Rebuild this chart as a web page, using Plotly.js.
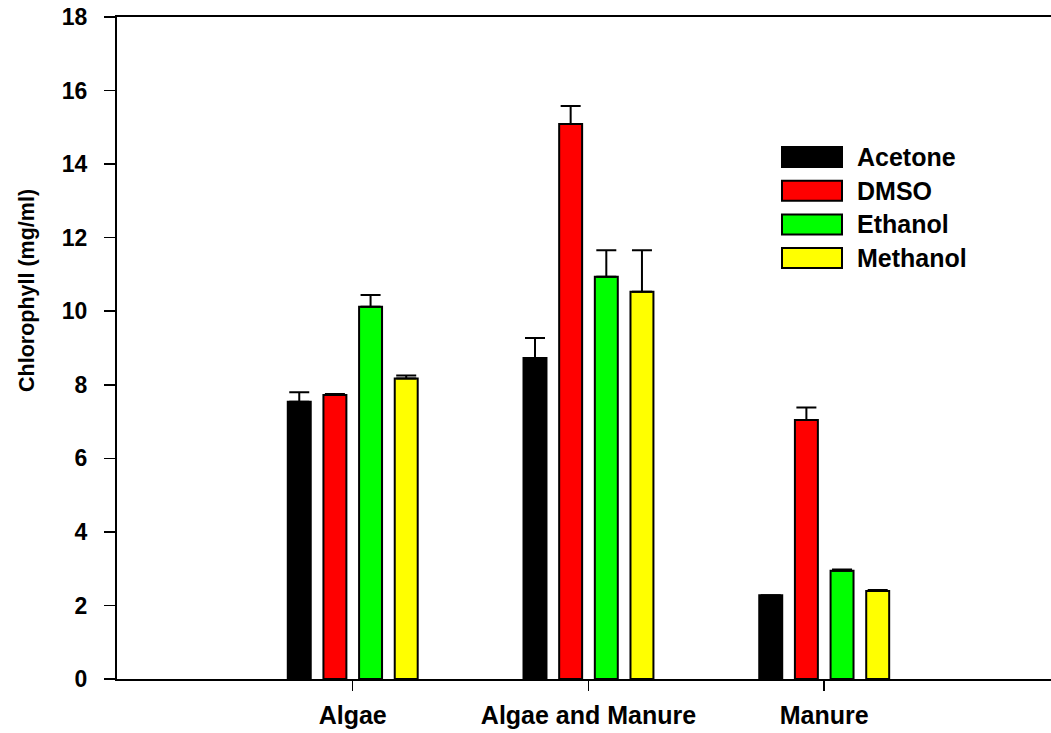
<!DOCTYPE html>
<html>
<head>
<meta charset="utf-8">
<script src="https://cdn.plot.ly/plotly-3.0.1.min.js"></script>
<style>html,body{margin:0;padding:0;overflow:hidden;background:#fff;}</style>
</head>
<body>
<div id="chart" style="width:1051px;height:733px;"></div>
<script>
const categories = ["Algae", "Algae and Manure", "Manure"];
const seriesNames = ["Acetone", "DMSO", "Ethanol", "Methanol"];
const seriesColors = ["#000000", "#ff0000", "#00ff00", "#ffff00"];
const acetone = [7.54, 8.73, 2.28];
const acetoneErr = [0.26, 0.54, 0.0];
const dmso = [7.72, 15.09, 7.04];
const dmsoErr = [0.03, 0.49, 0.34];
const ethanol = [10.12, 10.94, 2.94];
const ethanolErr = [0.32, 0.72, 0.04];
const methanol = [8.17, 10.53, 2.39];
const methanolErr = [0.08, 1.13, 0.03];
const yTicks = [0, 2, 4, 6, 8, 10, 12, 14, 16, 18];

const values = [acetone, dmso, ethanol, methanol];
const errs = [acetoneErr, dmsoErr, ethanolErr, methanolErr];
const FONT = "Arial, 'Liberation Sans', sans-serif";

const traces = seriesNames.map((name, i) => ({
  type: "bar",
  name: name,
  x: [0, 1, 2],
  y: values[i],
  marker: {color: seriesColors[i], line: {color: "#000", width: 2}},
  error_y: {type: "data", symmetric: false, array: errs[i], arrayminus: errs[i].map(() => 0),
            color: "#000", thickness: 2, width: 10, visible: true},
  showlegend: false
}));

// plot area pixel geometry (for custom legend placement)
const L = 117, T = 17, W = 934, H = 662;
const px2x = p => (p - L) / W;
const px2y = p => (T + H - p) / H;

const shapes = [];
const annotations = [];
seriesNames.forEach((name, i) => {
  const cy = 157 + i * 33.7;
  shapes.push({type: "rect", xref: "paper", yref: "paper",
    x0: px2x(782), x1: px2x(842), y0: px2y(cy + 10), y1: px2y(cy - 10),
    fillcolor: seriesColors[i], line: {color: "#000", width: 2}});
  annotations.push({xref: "paper", yref: "paper", x: px2x(855), y: px2y(cy),
    xanchor: "left", yanchor: "middle", showarrow: false, text: "<b>" + name + "</b>",
    font: {family: FONT, size: 25, color: "#000"}});
});
annotations.push({xref: "paper", yref: "paper", x: px2x(27), y: px2y(291),
  xanchor: "center", yanchor: "middle", showarrow: false, textangle: -90,
  text: "<b>Chlorophyll (mg/ml)</b>", font: {family: FONT, size: 21.5, color: "#000"}});

const layout = {
  width: 1051, height: 733,
  margin: {l: L, r: 0, t: T, b: 733 - T - H, pad: 0},
  paper_bgcolor: "#fff", plot_bgcolor: "#fff",
  barmode: "group", bargap: 0.395, bargroupgap: 0.356,
  font: {family: FONT, color: "#000"},
  xaxis: {
    range: [-1, 2.962], tickvals: [0, 1, 2], ticktext: categories.map(c => "<b>" + c + "</b>"),
    ticks: "outside", ticklen: 10, tickwidth: 1.5, tickcolor: "#000",
    showline: true, linecolor: "#000", linewidth: 2, mirror: true,
    showgrid: false, zeroline: false, ticklabelstandoff: 3,
    tickfont: {family: FONT, size: 25, color: "#000"}
  },
  yaxis: {
    range: [0, 18], tickvals: yTicks, ticktext: yTicks.map(v => "<b>" + v + "</b>"),
    ticks: "outside", ticklen: 11, tickwidth: 1.5, tickcolor: "#000",
    showline: true, linecolor: "#000", linewidth: 2,
    showgrid: false, zeroline: false, ticklabelstandoff: 12,
    tickfont: {family: FONT, size: 23, color: "#000"}
  },
  shapes: shapes,
  annotations: annotations
};

Plotly.newPlot("chart", traces, layout, {staticPlot: true, displayModeBar: false});
</script>
</body>
</html>
